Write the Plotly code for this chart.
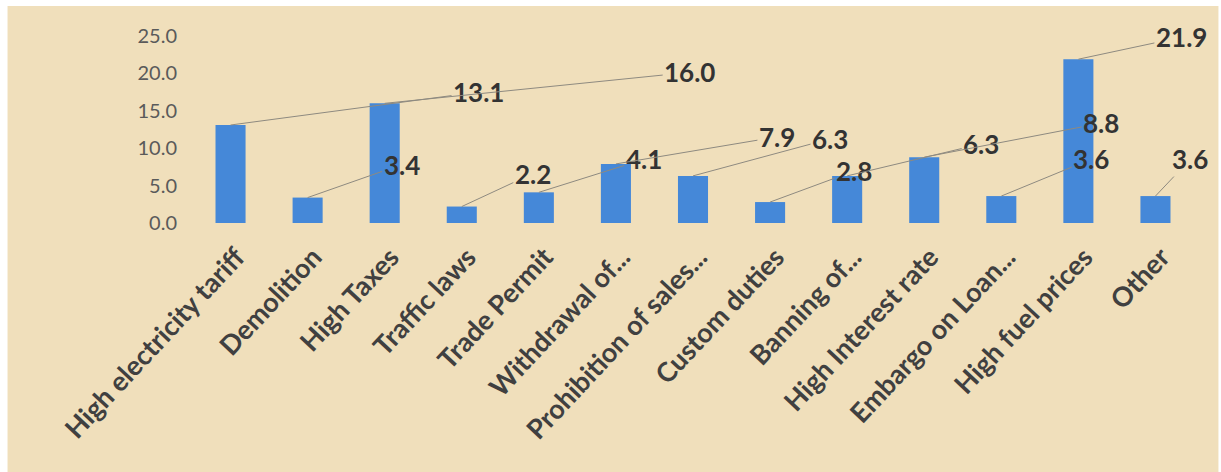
import plotly.graph_objects as go

categories = ["High electricity tariff", "Demolition", "High Taxes", "Traffic laws",
              "Trade Permit", "Withdrawal of...", "Prohibition of sales...", "Custom duties",
              "Banning of...", "High Interest rate", "Embargo on Loan...", "High fuel prices", "Other"]
values = [13.1, 3.4, 16.0, 2.2, 4.1, 7.9, 6.3, 2.8, 6.3, 8.8, 3.6, 21.9, 3.6]
y_ticks = [0, 5, 10, 15, 20, 25]

# pixel offsets of the data-label centres from the bar tops (leader lines)
label_dx = [248, 94, 305, 71, 105, 161, 137, 84, 134, 177, 90, 103, 35]
label_dy = [-33, -33, -31, -33, -33, -27, -37, -31, -32, -34, -37, -22, -37]

BG = "#F0DFBB"
BAR = "#4588D8"

fig = go.Figure()
fig.add_trace(go.Bar(x=categories, y=values, marker=dict(color=BAR, line=dict(width=0)),
                     hoverinfo="x+y"))

ann = []
for c, v, dx, dy in zip(categories, values, label_dx, label_dy):
    ann.append(dict(x=c, y=v, xref="x", yref="y", text=f"{v:.1f}", showarrow=True,
                    arrowhead=0, arrowwidth=1, arrowcolor="#8E8A80", ax=dx, ay=dy,
                    standoff=0, startstandoff=0,
                    font=dict(family="Lato", size=26, color="#333333", weight="bold")))

fig.update_layout(
    template="none",
    width=1221, height=472,
    margin=dict(l=192, r=27, t=36, b=249, autoexpand=False),
    paper_bgcolor="white",
    plot_bgcolor="rgba(0,0,0,0)",
    bargap=0.61,
    showlegend=False,
    annotations=ann,
    shapes=[dict(type="rect", xref="paper", yref="paper", x0=-0.1841, x1=1.0244,
                 y0=-1.36, y1=1.1604, fillcolor=BG, line=dict(width=0), layer="below")],
    xaxis=dict(range=[-0.5, len(categories) - 0.5], autorange=False,
               tickangle=-47, ticklabelstandoff=12, ticklabelshift=6,
               tickfont=dict(family="Lato", size=27, color="#404040", weight="bold"),
               showline=False, showgrid=False, zeroline=False,
               ticks="", automargin=False),
    yaxis=dict(range=[0, 25], autorange=False, tickvals=y_ticks, tickformat=".1f",
               showgrid=False, zeroline=False, showline=False, ticks="", automargin=False,
               ticklabelstandoff=14,
               tickfont=dict(family="Lato", size=20, color="#5A5A5A")),
)

fig.write_html("out.html", config={"displayModeBar": False},
               post_script="document.body.style.margin='0';")
